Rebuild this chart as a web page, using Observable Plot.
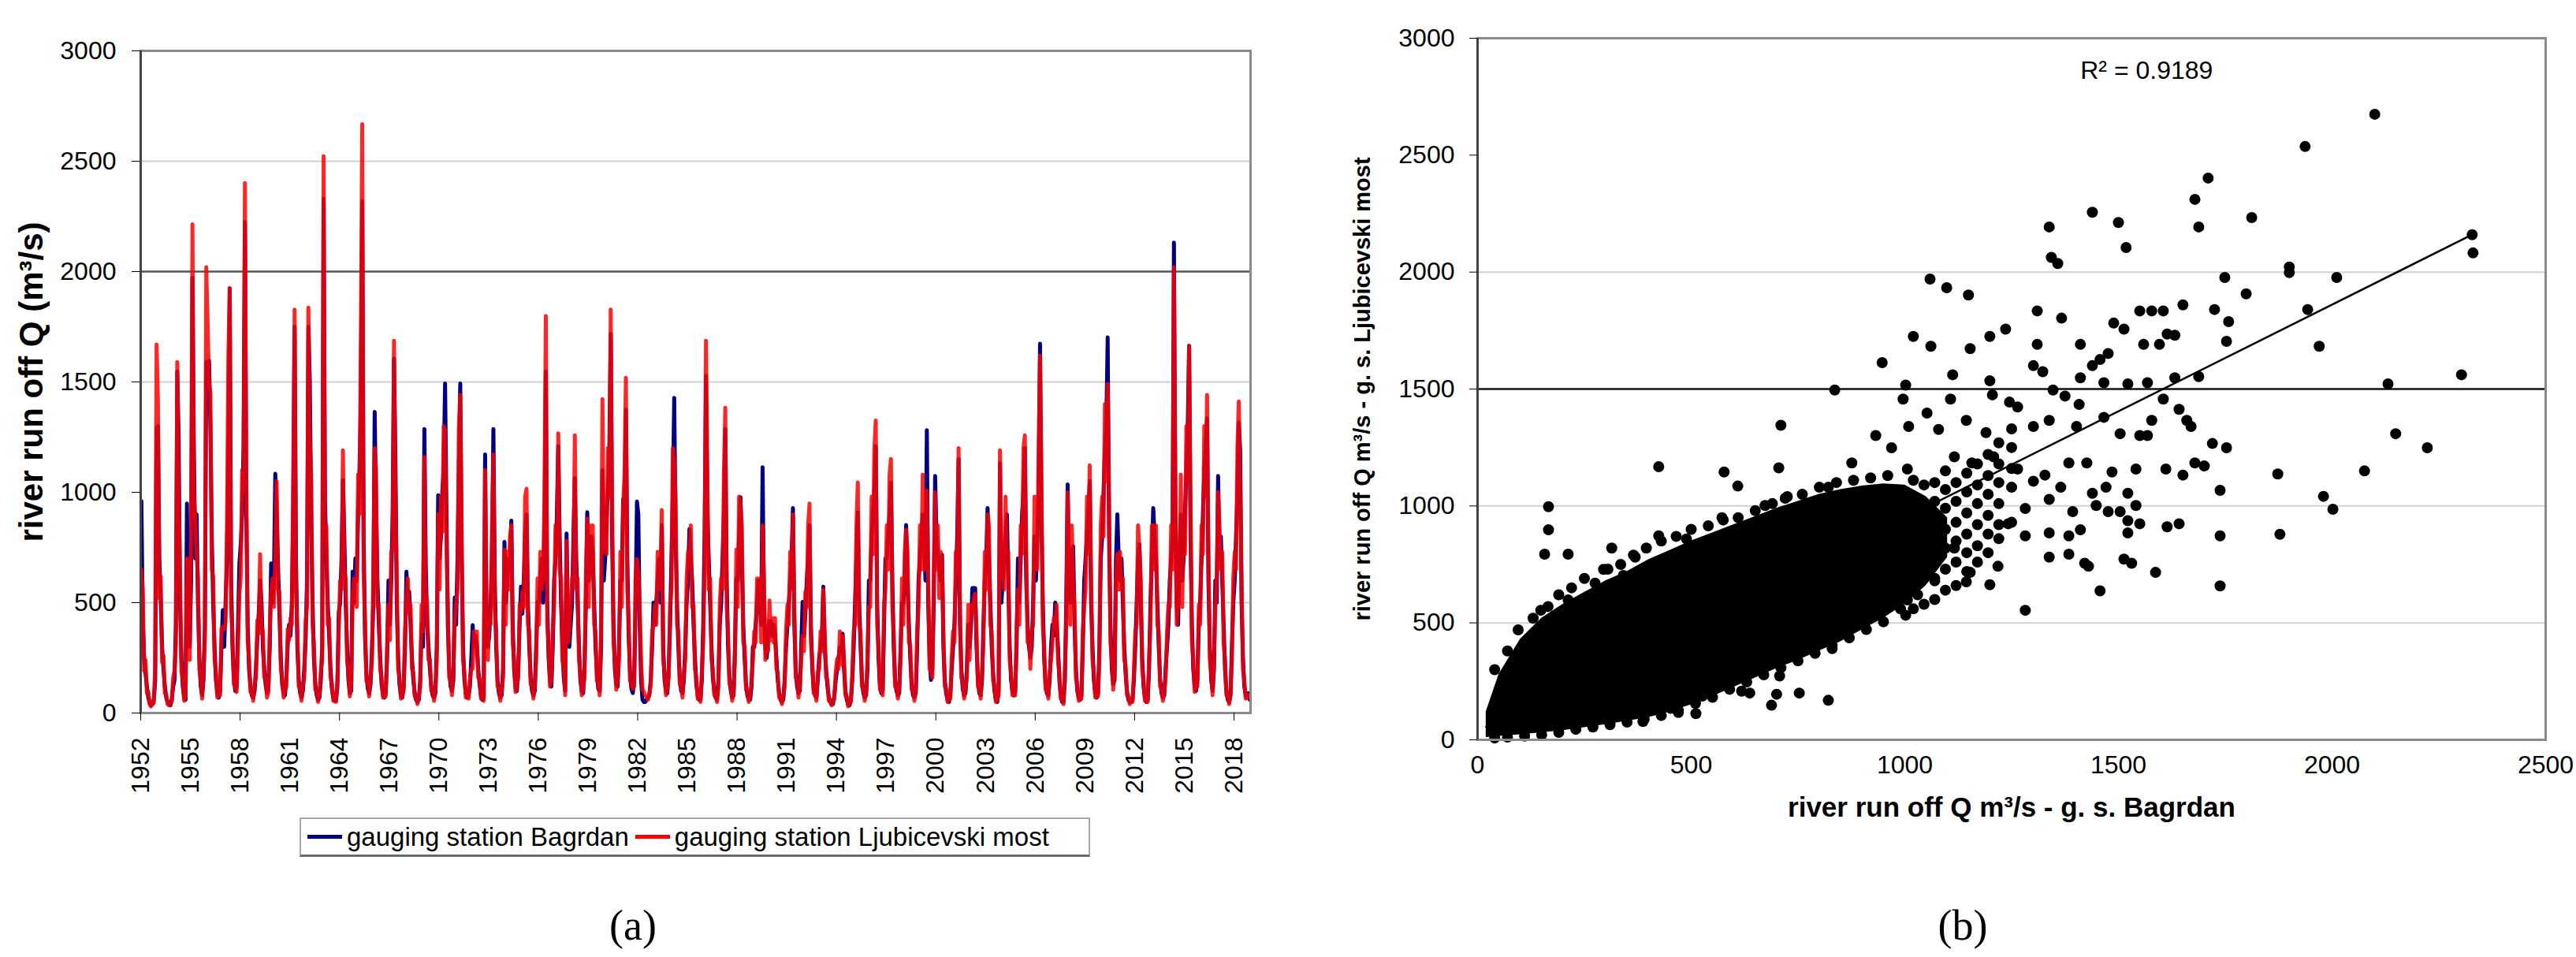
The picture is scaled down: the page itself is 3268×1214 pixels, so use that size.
<!DOCTYPE html>
<html><head><meta charset="utf-8">
<script src="https://cdn.jsdelivr.net/npm/d3@7"></script>
<script src="https://cdn.jsdelivr.net/npm/@observablehq/plot@0.6"></script>
<style>
html,body{margin:0;padding:0;background:#fff;}
#fig{position:relative;width:3268px;height:1214px;overflow:hidden;background:#fff;font-family:"Liberation Sans",Arial,sans-serif;}
#left{position:absolute;left:0;top:0;}
#right{position:absolute;left:1650px;top:0;}
#legend{position:absolute;left:380px;top:1037px;width:1003px;height:50px;box-sizing:border-box;border:2px solid #a8a8a8;border-bottom:3px solid #6a6a6a;display:flex;align-items:center;font-size:33px;color:#000;white-space:nowrap;}
.sw{display:inline-block;width:44px;height:5px;margin:0 6px 0 8px;}
.cap{position:absolute;top:1142px;width:200px;margin-left:-100px;text-align:center;font-family:"Liberation Serif",serif;font-size:54px;line-height:64px;}
</style></head><body>
<div id="fig">
  <div id="left"></div>
  <div id="right"></div>
  <div id="legend"></div>
  <div class="cap" style="left:803px">(a)</div>
  <div class="cap" style="left:2490px">(b)</div>
</div>
<script>
// ---------- Panel (a): monthly values, 1952..2018 ----------
const firstYear = 1952;
const bagrdan = [
[960,420,250,180,120,70,45,35,40,60,150,1290],
[1300,700,504,300,200,120,70,50,40,35,60,120],
[150,400,1546,1240,500,250,120,70,60,949,400,300],
[600,1973,1200,700,900,500,250,120,80,150,400,1590],
[1490,1596,1300,800,500,300,150,90,70,100,300,466],
[300,500,700,1100,1924,600,300,160,100,120,400,678],
[765,900,1200,2224,900,400,200,120,80,70,100,200],
[340,450,600,500,300,200,130,90,120,300,678,500],
[600,1084,900,668,450,250,130,90,80,150,311,400],
[350,500,900,1750,700,300,150,90,70,100,200,340],
[600,1750,1500,900,500,250,130,80,60,70,150,300],
[2330,968,700,500,350,200,110,70,55,60,120,456],
[500,700,1055,800,500,300,150,90,100,640,500,700],
[600,900,1100,1400,2320,800,350,180,110,90,130,280],
[500,1364,929,600,400,250,130,85,70,90,250,600],
[400,600,900,1605,1171,500,250,130,80,70,120,300],
[640,500,550,400,250,150,90,60,50,60,150,400],
[300,1287,668,400,300,200,120,80,70,90,300,987],
[700,800,1000,1100,1493,910,400,200,120,100,150,523],
[400,700,1100,1493,700,300,150,90,70,80,120,250],
[398,300,350,300,200,130,80,60,70,1171,400,300],
[350,500,700,1287,600,300,150,90,70,80,200,775],
[500,600,700,650,871,400,200,120,100,200,400,572],
[450,600,800,900,500,300,160,100,80,100,300,504],
[500,600,700,500,800,1548,500,250,150,120,300,600],
[700,900,1209,800,500,300,160,100,813,400,300,400],
[500,800,1064,700,500,300,150,100,90,200,500,910],
[600,700,800,700,500,300,180,110,100,300,1100,600],
[700,900,1000,1200,1718,800,400,200,130,120,300,600],
[600,968,900,1374,700,350,180,110,90,150,500,958],
[900,400,150,60,50,50,60,70,80,150,300,500],
[400,500,600,700,500,850,300,150,100,90,200,400],
[700,1000,1428,800,500,300,160,100,90,150,300,500],
[600,833,700,600,400,250,130,80,60,60,150,400],
[800,1528,900,697,500,300,160,100,70,60,150,400],
[500,700,900,1287,600,300,160,100,70,80,300,610],
[600,800,978,700,400,250,130,80,60,60,120,300],
[300,400,500,600,500,400,1113,500,300,250,350,417],
[417,350,400,350,250,150,90,60,50,60,150,300],
[400,500,600,700,929,400,200,120,90,100,300,504],
[350,450,600,700,850,400,200,110,80,70,150,250],
[300,350,572,300,200,120,70,50,40,40,80,150],
[200,250,300,280,359,200,100,60,40,35,60,150],
[300,500,700,910,500,300,150,90,70,80,200,600],
[600,800,900,1000,1209,500,250,130,90,100,400,700],
[700,800,900,1045,600,300,150,100,80,90,300,500],
[500,600,852,600,400,250,130,80,70,90,300,600],
[700,800,900,800,600,1281,500,250,150,200,500,1074],
[800,700,650,600,717,300,150,90,60,50,80,200],
[300,400,600,800,1150,400,200,110,80,90,200,400],
[300,400,566,566,566,300,150,90,80,150,400,600],
[700,929,700,500,300,180,100,60,50,100,1132,500],
[600,700,800,900,600,300,150,100,80,100,300,700],
[500,700,900,1000,1200,600,400,300,250,300,500,800],
[600,800,1000,1673,900,500,250,130,90,80,150,300],
[400,350,500,400,300,150,80,50,50,150,500,1036],
[600,500,700,755,400,200,100,70,60,80,300,600],
[700,800,900,1050,500,300,150,90,70,90,300,700],
[800,1000,1200,1300,1702,800,400,200,130,150,688,900],
[700,600,700,500,300,180,100,60,50,50,60,150],
[300,500,700,765,500,250,120,70,50,60,200,500],
[700,929,800,700,500,300,150,90,70,80,200,300],
[400,600,700,800,2131,900,500,400,700,900,600,700],
[900,1100,1300,1663,800,400,200,120,100,150,400,500],
[700,900,1100,1200,1335,600,300,150,100,200,600,500],
[1074,700,800,600,400,200,100,60,50,80,300,500],
[600,800,1000,1316,1190,500,250,120,80,70,90,60]
];
const ljubicevski = [
[650,560,190,240,90,95,40,30,55,45,210,1670],
[1410,520,620,230,260,90,85,40,35,45,50,160],
[190,310,1590,1000,640,190,150,55,75,700,520,240],
[780,2214,1000,880,720,620,200,150,65,190,330,2020],
[1760,1500,1450,650,620,240,190,70,85,80,380,390],
[380,410,850,1615,1924,480,360,130,120,95,300,540],
[620,1100,1000,2401,1080,330,250,95,100,55,130,160],
[420,360,720,400,370,160,160,70,95,380,560,610],
[480,680,1050,560,550,200,160,70,100,120,380,330],
[430,400,1080,1828,560,370,120,110,55,125,160,420],
[480,1837,1250,1080,400,310,105,100,50,85,190,240],
[2523,800,850,400,430,160,135,55,65,50,150,380],
[600,560,1190,650,610,240,185,75,125,520,610,570],
[480,1080,900,1700,2668,650,420,145,135,75,160,230],
[610,1200,1100,480,490,200,160,70,85,75,300,490],
[330,730,740,1687,1000,610,200,160,65,85,100,370],
[520,610,450,490,200,185,75,75,40,75,120,490],
[370,1160,550,490,240,245,100,100,55,110,240,900],
[560,980,820,1300,1280,760,490,160,150,80,185,420],
[490,560,1300,1440,850,240,185,70,85,65,150,200],
[200,370,280,370,160,160,65,75,55,1100,490,240],
[430,400,850,1171,480,370,120,110,55,100,160,740],
[400,730,560,800,850,320,245,95,125,160,490,460],
[550,480,980,1016,400,370,130,125,65,125,240,610],
[400,730,560,610,980,1799,400,310,120,150,370,480],
[850,720,1267,650,610,240,195,80,780,320,370,490],
[610,650,1258,560,610,240,185,80,110,160,610,880],
[480,850,650,850,400,370,145,135,80,370,1422,730],
[850,720,1200,980,1828,980,320,245,105,150,240,730],
[480,940,1080,1519,560,430,145,135,110,120,610,697],
[640,490,230,110,95,80,75,60,90,130,370,400],
[490,400,730,560,610,920,240,185,80,110,160,490],
[560,1200,1150,980,400,370,130,125,70,185,240,610],
[730,700,850,480,490,200,160,65,75,50,185,320],
[650,1687,1080,560,610,240,195,80,85,50,120,490],
[610,560,1080,1383,480,370,130,125,55,100,240,740],
[480,980,950,850,320,305,105,100,50,75,150,240],
[370,320,610,480,610,320,850,610,240,305,280,510],
[330,430,320,430,200,185,70,75,40,75,120,370],
[490,400,730,560,900,490,160,150,70,125,240,350],
[280,550,480,850,949,320,245,90,100,55,185,200],
[370,280,560,370,160,150,55,60,35,50,65,185],
[245,200,370,220,350,245,80,75,30,45,50,185],
[370,400,850,1045,400,370,120,110,55,100,245,480],
[480,980,720,1200,1325,400,305,105,110,80,490,560],
[850,650,1080,1151,480,370,120,125,65,110,240,610],
[400,730,830,730,320,305,105,100,55,110,370,480],
[850,650,1080,650,730,1007,610,200,185,160,610,1000],
[650,850,520,730,700,370,120,110,50,60,65,245],
[370,320,730,650,1200,490,160,135,65,110,160,490],
[240,490,450,520,540,370,120,110,65,185,320,730],
[560,900,850,400,370,145,125,50,60,80,1190,610],
[730,560,980,720,730,240,185,80,100,80,370,560],
[400,850,720,1200,1258,730,320,370,200,370,400,980],
[730,650,1200,1620,1080,400,305,105,110,65,185,240],
[320,430,400,490,240,185,65,60,40,185,400,1000],
[730,400,850,600,490,160,125,55,75,65,370,480],
[560,980,720,1122,610,240,185,70,85,75,240,850],
[980,800,1400,1050,1490,980,320,245,105,185,600,720],
[560,730,560,610,240,220,80,75,40,60,50,185],
[370,400,850,740,610,200,145,55,60,50,245,400],
[850,850,650,850,400,370,120,110,55,100,160,370],
[490,480,850,650,2020,1080,400,490,560,1080,480,850],
[720,1300,1050,1663,980,320,245,95,120,120,490,400],
[850,720,1300,980,1441,730,240,185,80,245,480,610],
[1000,850,650,730,320,245,80,75,40,100,240,610],
[730,650,1200,1412,1000,610,200,145,65,85,75,70]
];
const seriesNames = ["gauging station Bagrdan", "gauging station Ljubicevski most"];
const seriesColors = ["#000080", "#ff0000"];
const yTicks = [0, 500, 1000, 1500, 2000, 2500, 3000];
const yearLabels = [1952,1955,1958,1961,1964,1967,1970,1973,1976,1979,1982,1985,1988,1991,1994,1997,2000,2003,2006,2009,2012,2015,2018];
const yearTickMarks = [1952,1958,1964,1970,1976,1982,1988,1994,2000,2006,2012,2018];
const leftGridLight = [500, 1500, 2500];
const leftGridDark = [2000];
const leftYTitle = "river run off Q (m³/s)";

// ---------- Panel (b): scatter ----------
// solid core of the cloud: Bagrdan value with lower / upper Ljubicevski edge of the black mass
const coreX    = [20, 50, 100, 150, 200, 250, 300, 350, 400, 450, 500, 550, 600, 650, 700, 750, 800, 850, 900, 950, 1000, 1050, 1100];
const coreLow  = [10, 15, 22, 30, 40, 52, 65, 80, 95, 120, 150, 185, 225, 265, 305, 340, 380, 420, 470, 520, 580, 660, 780];
const coreHigh = [120, 280, 430, 520, 580, 630, 680, 720, 770, 810, 850, 885, 920, 955, 990, 1020, 1050, 1070, 1085, 1095, 1090, 1040, 950];
// individual points [Bagrdan, Ljubicevski most]
const scatterPoints = [
[2100,2675],[1937,2537],[1710,2402],[1679,2311],[1688,2193],[1812,2233],[1439,2256],[1500,2212],[1518,2105],[1338,2193],[1343,2063],[1358,2037],[2328,2160],[2330,2082],[1900,2022],[1900,1998],[2011,1977],[1749,1977],[1059,1970],[1098,1933],[1149,1902],[1799,1907],[1943,1840],[1310,1834],[1367,1803],[1651,1860],[1725,1840],[1758,1788],[1550,1834],[1578,1834],[1605,1834],[1489,1782],[1513,1756],[1614,1735],[1632,1730],[1020,1725],[1199,1725],[1236,1756],[1061,1683],[1153,1673],[1310,1691],[1411,1691],[1439,1600],[1457,1626],[1476,1652],[1559,1691],[1596,1691],[1753,1704],[1970,1683],[947,1613],[836,1496],[1002,1517],[1112,1561],[1301,1600],[1323,1574],[1411,1548],[1466,1527],[1522,1522],[1568,1527],[1632,1548],[1688,1553],[2303,1561],[2131,1522],[996,1457],[1052,1397],[1107,1457],[1199,1535],[1205,1475],[1245,1444],[1264,1423],[1347,1496],[1375,1470],[1408,1434],[1605,1457],[1642,1413],[1660,1366],[1670,1340],[1578,1366],[1466,1379],[710,1345],[932,1301],[969,1249],[1009,1340],[1079,1327],[1144,1366],[1190,1314],[1301,1340],[1338,1366],[1402,1340],[1504,1309],[1550,1301],[1568,1301],[1720,1267],[1753,1249],[2149,1309],[2223,1249],[705,1163],[876,1184],[1006,1158],[1116,1210],[1157,1184],[1208,1210],[1264,1158],[1328,1132],[1384,1184],[1426,1184],[1485,1145],[1541,1158],[1611,1158],[1651,1132],[1679,1184],[1701,1171],[1873,1137],[2076,1150],[424,1168],[577,1145],[609,1085],[821,1080],[1301,1106],[1365,1080],[1439,1054],[1471,1080],[1522,1054],[1541,1002],[1738,1067],[1980,1041],[2002,986],[1338,1028],[1393,976],[1448,1002],[1476,976],[1504,976],[1282,989],[1282,872],[1242,924],[1338,885],[1384,872],[1411,898],[1522,937],[1550,924],[1522,885],[1614,911],[1642,924],[1738,872],[1878,879],[1338,781],[1384,794],[1421,755],[1430,742],[1513,773],[1531,755],[1587,716],[1457,637],[1282,554],[1738,658],[1218,742],[1199,663],[1144,676],[1153,716],[1116,820],[1079,833],[1002,533],[1006,598],[932,611],[895,625],[858,533],[830,390],[821,169],[753,200],[700,195],[688,148],[637,200],[618,208],[707,273],[526,187],[511,112],[470,117],[452,135],[387,78],[323,169],[148,554],[166,997],[166,898],[212,794],[157,794],[212,598],[231,494],[120,403],[489,859],[424,872],[369,781],[314,820],[295,729],[341,703],[369,690],[572,950],[673,1002],[720,1033],[812,963],[876,950],[950,898],[590,872],[637,807],[673,820],
[40,300],[70,380],[95,470],[130,520],[165,570],[190,620],[220,650],[250,690],[275,670],[305,730],[335,750],[365,790],[395,820],[430,850],[465,870],[500,900],[540,915],[575,940],[610,950],[650,980],[690,1010],[725,1040],[760,1050],[800,1080],[840,1100],[880,1110],[920,1120],[960,1130],
[40,8],[70,12],[110,16],[150,22],[190,32],[230,45],[270,55],[310,65],[350,76],[390,88],[430,104],[470,126],[510,156],[550,182],[590,216],[630,248],[670,278],[710,308],[750,338],[790,370],[830,404],[870,436],[910,472],[950,505],[990,560],[1030,620],[1070,690],
[1020,560],[1020,640],[1020,720],[1020,800],[1020,880],[1020,960],[1020,1040],[1020,1110],[1045,580],[1045,690],[1045,760],[1045,850],[1045,930],[1045,1010],[1045,1090],[1070,600],[1070,680],[1070,770],[1070,860],[1070,940],[1070,1020],[1070,1100],[1095,640],[1095,730],[1095,820],[1095,900],[1095,990],[1095,1070],[1095,1150],[1120,660],[1120,760],[1120,850],[1120,930],[1120,1020],[1120,1100],[1145,720],[1145,800],[1145,880],[1145,970],[1145,1060],[1145,1140],[1170,760],[1170,830],[1170,920],[1170,1010],[1170,1090],[1170,1180],[1195,800],[1195,880],[1195,960],[1195,1050],[1195,1130],[1195,1220],[1220,860],[1220,920],[1220,1010],[1220,1100],[1220,1180],[1220,1270],[1250,930],[1250,1080],[1250,1160],[1250,1250],[1250,1330]
];
const trendBagrdan = [20, 2328];
const trendLjubicevski = [55, 2160];
const r2Label = {text: "R² = 0.9189", x: 1411, y: 2860};
const xTicksB = [0, 500, 1000, 1500, 2000, 2500];
const rightGridLight = [500, 1000, 2000];
const rightGridDark = [1500];
const rightYTitle = "river run off Q m³/s - g. s. Ljubicevski most";
const rightXTitle = "river run off Q m³/s - g. s. Bagrdan";

// ---------- build tables ----------
function toRows(arr) {
  const rows = [];
  arr.forEach((yr, k) => yr.forEach((q, m) => rows.push({t: firstYear + k + (m + 0.5) / 12, q})));
  return rows;
}
const rowsB = toRows(bagrdan);
const rowsR = toRows(ljubicevski);
const core = coreX.map((x, i) => ({x, lo: coreLow[i], hi: coreHigh[i]}));
const trend = trendBagrdan.map((x, i) => ({x, y: trendLjubicevski[i]}));
const fmt = d => String(d);
const font = '"Liberation Sans", Arial, sans-serif';

const leftPlot = Plot.plot({
  width: 1620, height: 1030,
  marginLeft: 178, marginRight: 34, marginTop: 64, marginBottom: 126,
  style: {fontFamily: font, fontSize: "32px", color: "#000", background: "transparent", overflow: "visible"},
  x: {domain: [1952, 2019]},
  y: {domain: [0, 3000]},
  marks: [
    Plot.ruleY(leftGridLight, {stroke: "#cfcfcf", strokeWidth: 2}),
    Plot.ruleY(leftGridDark, {stroke: "#555", strokeWidth: 2.5}),
    Plot.line(rowsB, {x: "t", y: "q", stroke: seriesColors[0], strokeWidth: 5}),
    Plot.line(rowsR, {x: "t", y: "q", stroke: seriesColors[1], strokeWidth: 5, strokeOpacity: 0.85}),
    Plot.frame({stroke: "#8a8a8a", strokeWidth: 3}),
    Plot.ruleX([1952], {stroke: "#444", strokeWidth: 3}),
    Plot.axisY({ticks: yTicks, tickFormat: fmt, tickSize: 11, tickPadding: 20, label: null}),
    Plot.axisX({ticks: yearTickMarks, tickFormat: () => "", tickSize: 10, label: null}),
    Plot.axisX({ticks: yearLabels, tickFormat: fmt, tickRotate: -90, tickSize: 0, tickPadding: 31, label: null}),
    Plot.text([leftYTitle], {frameAnchor: "left", rotate: -90, dx: -138, textAnchor: "middle", lineAnchor: "middle", fontWeight: "bold", fontSize: 42})
  ]
});
document.getElementById("left").appendChild(leftPlot);

const rightPlot = Plot.plot({
  width: 1618, height: 1110,
  marginLeft: 224, marginRight: 39, marginTop: 48, marginBottom: 172,
  style: {fontFamily: font, fontSize: "32px", color: "#000", background: "transparent", overflow: "visible"},
  x: {domain: [0, 2500]},
  y: {domain: [0, 3000]},
  marks: [
    Plot.ruleY(rightGridLight, {stroke: "#d0d0d0", strokeWidth: 2}),
    Plot.ruleY(rightGridDark, {stroke: "#111", strokeWidth: 2.5}),
    Plot.areaY(core, {x: "x", y1: "lo", y2: "hi", fill: "#000"}),
    Plot.dot(scatterPoints, {x: d => d[0], y: d => d[1], r: 7, fill: "#000"}),
    Plot.line(trend, {x: "x", y: "y", stroke: "#000", strokeWidth: 2.5}),
    Plot.text([r2Label], {x: "x", y: "y", text: "text", textAnchor: "start", fontSize: 32}),
    Plot.frame({stroke: "#8a8a8a", strokeWidth: 3}),
    Plot.ruleX([0], {stroke: "#444", strokeWidth: 3}),
    Plot.axisY({ticks: yTicks, tickFormat: fmt, tickSize: 10, tickPadding: 19, label: null}),
    Plot.axisX({ticks: xTicksB, tickFormat: fmt, tickSize: 0, tickPadding: 20, label: null}),
    Plot.text([rightYTitle], {frameAnchor: "left", rotate: -90, dx: -146, textAnchor: "middle", lineAnchor: "middle", fontWeight: "bold", fontSize: 29}),
    Plot.text([rightXTitle], {frameAnchor: "bottom", dy: 86, textAnchor: "middle", lineAnchor: "middle", fontWeight: "bold", fontSize: 35})
  ]
});
document.getElementById("right").appendChild(rightPlot);

// legend
const legend = document.getElementById("legend");
seriesNames.forEach((name, i) => {
  const sw = document.createElement("span");
  sw.className = "sw";
  sw.style.background = seriesColors[i];
  const tx = document.createElement("span");
  tx.textContent = name;
  legend.appendChild(sw);
  legend.appendChild(tx);
});
</script>
</body></html>
